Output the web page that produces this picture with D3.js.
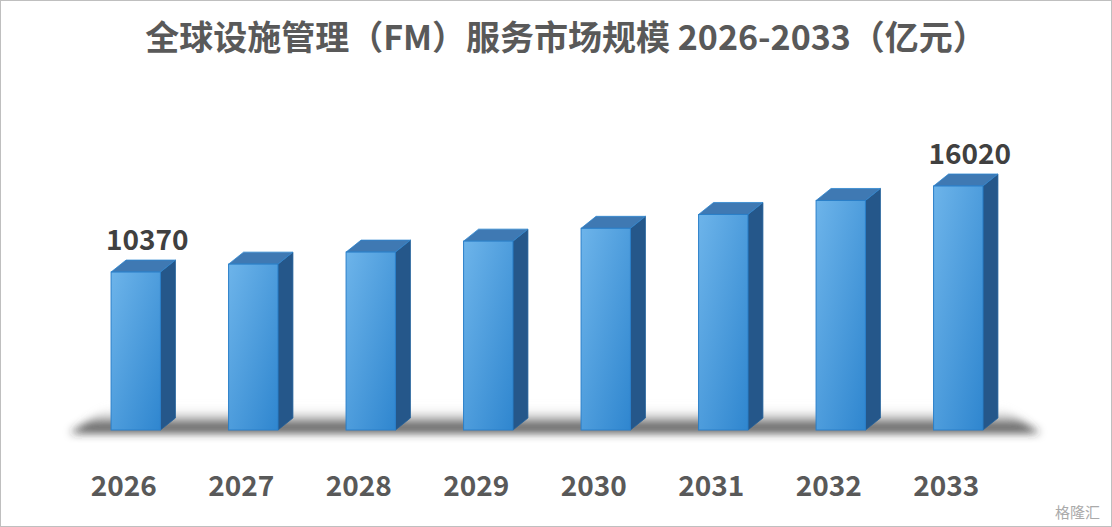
<!DOCTYPE html>
<html><head><meta charset="utf-8">
<script src="https://cdn.jsdelivr.net/npm/d3@7"></script>
<style>body{margin:0;background:#fff}svg{display:block;font-family:"Noto Sans CJK SC","Open Sans",sans-serif}</style>
</head><body><svg id="c" width="1112" height="527"></svg>
<script>
const years = ["2026","2027","2028","2029","2030","2031","2032","2033"];
const values = [10370,10890,11680,12400,13240,14150,15070,16020];
const labelled = ["2026","2033"];
const title = "全球设施管理（FM）服务市场规模 2026-2033（亿元）";

const svg = d3.select("#c");
svg.append("rect").attr("x",0.5).attr("y",0.5).attr("width",1111).attr("height",526).attr("fill","#fff").attr("stroke","#bfbfbf");
const defs = svg.append("defs");
const fg = defs.append("linearGradient").attr("id","front").attr("x1",0).attr("x2",1).attr("y1",0).attr("y2",1);
fg.append("stop").attr("offset",0).attr("stop-color","#6db4ea");
fg.append("stop").attr("offset",1).attr("stop-color","#2f86cf");
const sh = defs.append("linearGradient").attr("id","shadow").attr("x1",0).attr("x2",0).attr("y1",0).attr("y2",1);
sh.append("stop").attr("offset",0).attr("stop-color","#fff").attr("stop-opacity",0);
sh.append("stop").attr("offset",0.6).attr("stop-color","#555").attr("stop-opacity",0.7);
sh.append("stop").attr("offset",1).attr("stop-color","#222").attr("stop-opacity",0.9);
const fl = defs.append("filter").attr("id","blur").attr("x","-10%").attr("y","-50%").attr("width","120%").attr("height","200%");
fl.append("feGaussianBlur").attr("stdDeviation",4);

svg.append("text").attr("x",566).attr("y",50).attr("text-anchor","middle").attr("font-size",34).attr("font-weight","bold").attr("fill","#595959").text(title);

const x = d3.scaleBand().domain(years).range([77,1017]).paddingInner(0.58).paddingOuter(0.29);
const y = d3.scaleLinear().domain([0,16020]).range([430,186]);
const dx=15, dy=12;

svg.append("path").attr("d",`M70,433 L1040,433 L1000,407 L110,407 Z`).attr("fill","url(#shadow)").attr("filter","url(#blur)");

const g = svg.selectAll("g.bar").data(years.map((d,i)=>({y:d,v:values[i]}))).join("g");
g.append("path").attr("d",d=>{const x0=x(d.y)+x.bandwidth(),t=y(d.v);return `M${x0},${t} L${x0+dx},${t-dy} L${x0+dx},${430-dy} L${x0},430 Z`;})
 .attr("fill","#25578a").attr("stroke","#1f5f9a").attr("stroke-width",0.8);
g.append("path").attr("d",d=>{const x0=x(d.y),x1=x0+x.bandwidth(),t=y(d.v);return `M${x0},${t} L${x0+dx},${t-dy} L${x1+dx},${t-dy} L${x1},${t} Z`;})
 .attr("fill","#3f79b3").attr("stroke","#2f86cf").attr("stroke-width",0.8);
g.append("rect").attr("x",d=>x(d.y)).attr("y",d=>y(d.v)).attr("width",x.bandwidth()).attr("height",d=>430-y(d.v))
 .attr("fill","url(#front)").attr("stroke","#2a7fc9").attr("stroke-width",1);
g.filter(d=>labelled.includes(d.y)).append("text").attr("x",d=>x(d.y)+x.bandwidth()/2+dx/2+4).attr("y",d=>y(d.v)-dy-10)
 .attr("text-anchor","middle").attr("font-size",28).attr("font-weight","bold").attr("fill","#404040").text(d=>d.v);
g.append("text").attr("x",d=>x(d.y)+x.bandwidth()/2-12).attr("y",496).attr("text-anchor","middle")
 .attr("font-size",28).attr("font-weight","bold").attr("fill","#595959").text(d=>d.y);

svg.append("text").attr("x",1100).attr("y",518).attr("text-anchor","end").attr("font-size",15).attr("fill","#aaa").text("格隆汇");
</script></body></html>
